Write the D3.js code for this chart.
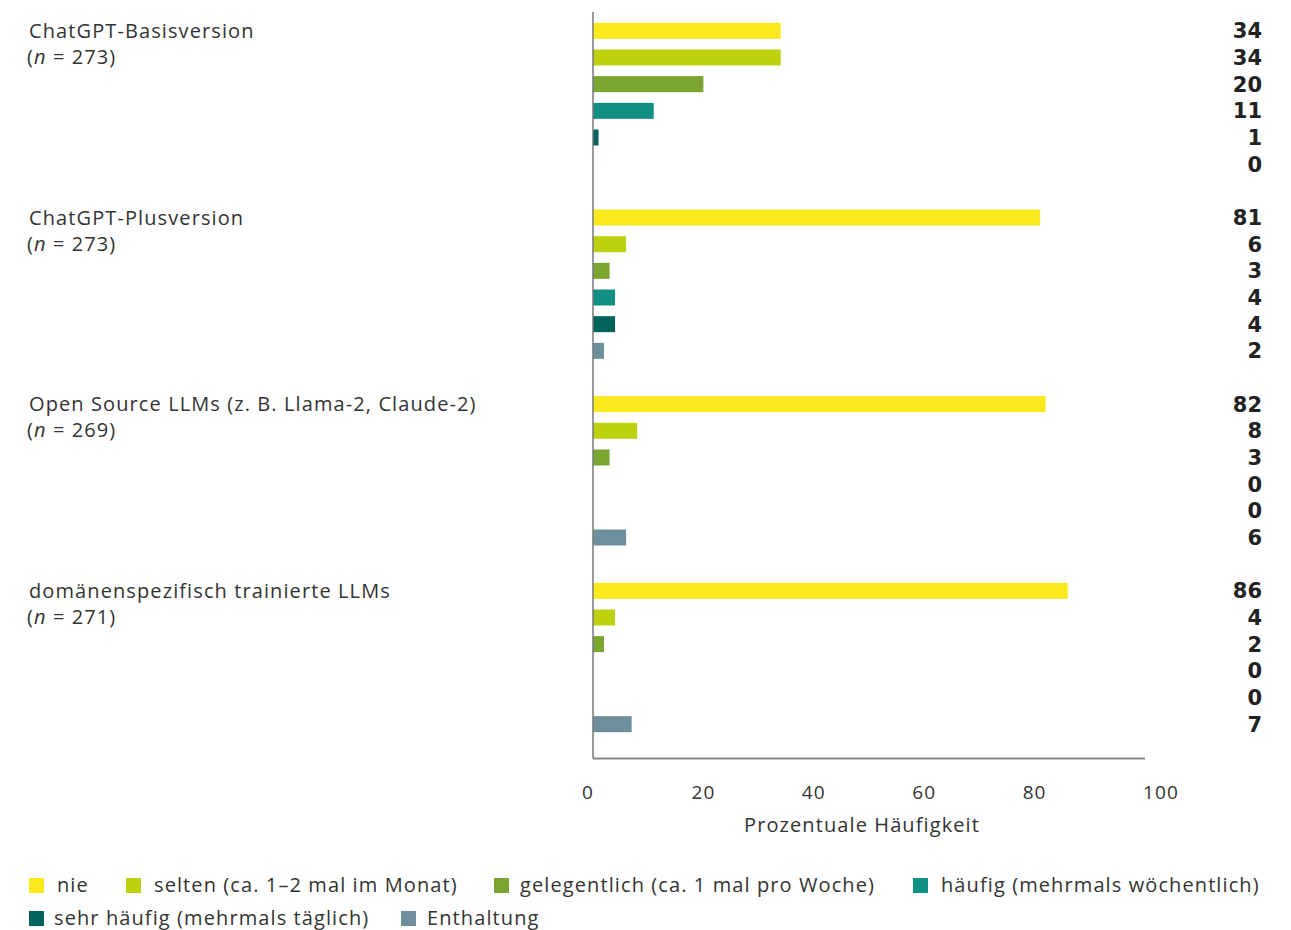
<!DOCTYPE html>
<html><head><meta charset="utf-8">
<script src="https://cdn.jsdelivr.net/npm/d3@7/dist/d3.min.js"></script>
<style>
body{margin:0;background:#fff;}
text{font-family:"Open Sans",Roboto,sans-serif;fill:#333;letter-spacing:1.1px;}
</style></head>
<body><svg id="c" width="1291" height="930"></svg>
<script>
const categories = ["ChatGPT-Basisversion","ChatGPT-Plusversion","Open Source LLMs (z. B. Llama-2, Claude-2)","domänenspezifisch trainierte LLMs"];
const sampleSizes = [273,273,269,271];
const seriesNames = ["nie","selten (ca. 1–2 mal im Monat)","gelegentlich (ca. 1 mal pro Woche)","häufig (mehrmals wöchentlich)","sehr häufig (mehrmals täglich)","Enthaltung"];
const seriesColors = ["#fbe91e","#bed10e","#7aa52f","#128f83","#00645c","#6e8f9c"];
const nie = [34,81,82,86];
const selten = [34,6,8,4];
const gelegentlich = [20,3,3,2];
const haeufig = [11,4,0,0];
const sehrHaeufig = [1,4,0,0];
const enthaltung = [0,2,6,7];
const xTicks = [0,20,40,60,80,100];
const xTitle = "Prozentuale Häufigkeit";

const series = [nie,selten,gelegentlich,haeufig,sehrHaeufig,enthaltung];
const svg = d3.select("#c");

const x = d3.scaleLinear().domain([0,100]).range([593,1145]);
const yG = d3.scaleBand().domain(categories).range([17.5,737.5]).paddingInner(1/7).paddingOuter(0);
const yS = d3.scaleBand().domain(d3.range(6)).range([0,yG.bandwidth()]).paddingInner(0.4).paddingOuter(0.2);

categories.forEach((c,ci)=>{
  const g = svg.append("g").attr("transform",`translate(0,${yG(c)})`);
  const rows = series.map((s,si)=>({si, v:s[ci]}));
  g.selectAll("rect").data(rows.filter(d=>d.v>0)).join("rect")
    .attr("x",x(0)).attr("y",d=>yS(d.si))
    .attr("width",d=>x(d.v)-x(0)).attr("height",yS.bandwidth())
    .attr("fill",d=>seriesColors[d.si]);
  g.selectAll("text.val").data(rows).join("text").attr("class","val")
    .attr("x",1262).attr("y",d=>yS(d.si)+yS.bandwidth()/2)
    .attr("dy","0.36em").attr("text-anchor","end")
    .style("font-family","'DejaVu Sans',sans-serif").style("letter-spacing","0px")
    .style("font-size","21px").style("font-weight","bold").style("fill","#222")
    .text(d=>d.v);
  const lab = svg.append("text").attr("x",29).attr("y",yG(c)+yS(0)+15)
    .style("font-size","20px");
  lab.text(c);
  const n = svg.append("text").attr("x",27).attr("y",yG(c)+yS(0)+41).style("font-size","20px");
  n.append("tspan").text("(");
  n.append("tspan").style("font-style","italic").text("n");
  n.append("tspan").text(" = "+sampleSizes[ci]+")");
});

svg.append("line").attr("x1",x(0)).attr("x2",x(0)).attr("y1",12).attr("y2",758.5)
  .attr("stroke","#777").attr("stroke-width",1.5);
svg.append("line").attr("x1",x(0)).attr("x2",x(100)).attr("y1",758.5).attr("y2",758.5)
  .attr("stroke","#888").attr("stroke-width",2);

svg.selectAll("text.tick").data(xTicks).join("text").attr("class","tick")
  .attr("x",d=>x(d) + (d===0?-5:(d===100?16:0))).attr("y",799)
  .attr("text-anchor","middle").style("font-size","19px").text(d=>d);
svg.append("text").attr("x",862).attr("y",832).attr("text-anchor","middle")
  .style("font-size","20px").text(xTitle);

const legPos = [[29,57,885],[126,154,885],[494,520,885],[913,941,885],[29,54,918],[401,427,918]];
const leg = svg.selectAll("g.leg").data(seriesNames).join("g").attr("class","leg");
leg.append("rect").attr("x",(d,i)=>legPos[i][0]).attr("y",(d,i)=>legPos[i][2]-7)
  .attr("width",15).attr("height",15).attr("fill",(d,i)=>seriesColors[i]);
leg.append("text").attr("x",(d,i)=>legPos[i][1]).attr("y",(d,i)=>legPos[i][2]).attr("dy","0.36em")
  .style("font-size","20px").text(d=>d);
</script></body></html>
